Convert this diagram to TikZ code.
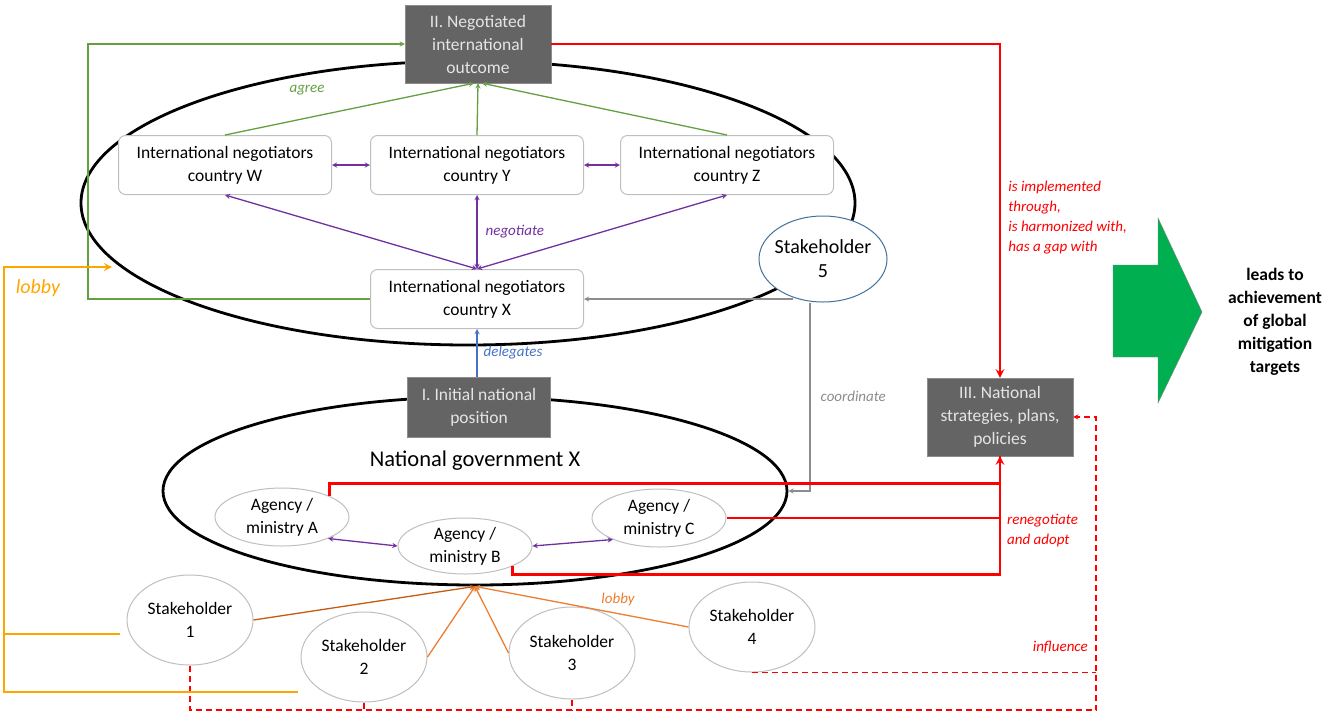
\documentclass[tikz,border=0pt]{standalone}
\usepackage{fontspec}
\setmainfont{Carlito}
\usetikzlibrary{positioning}
\usetikzlibrary{shapes.geometric}
\definecolor{boxgray}{HTML}{646464}
\definecolor{agreegreen}{HTML}{62A040}
\definecolor{negpurple}{HTML}{7030A0}
\definecolor{delblue}{HTML}{4472C4}
\definecolor{coordgray}{HTML}{8C8C8C}
\definecolor{lobbyorange}{HTML}{ED7D31}
\definecolor{lobbydark}{HTML}{C55A11}
\definecolor{lobbybright}{HTML}{FFA500}
\definecolor{s5blue}{HTML}{41719C}
\definecolor{arrowgreen}{HTML}{00B050}
\tikzset{
semithick, % default lines
>=stealth, % All arrows with stealth tips
my text/.style={font=\fontsize{17.5}{23}\selectfont},
my label/.style={font=\itshape\fontsize{15}{20}\selectfont,inner sep=2pt},
dark box/.style={draw=black!45,fill=boxgray,text=white!90!black,align=center,
  minimum width=146pt,inner sep=3pt,my text},
neg box/.style={draw=black!25,fill=white,rounded corners=2.5mm,line width=1pt,
  minimum width=213pt,minimum height=59pt,align=center,my text},
agency/.style={draw=black!25,fill=white,ellipse,line width=1pt,inner sep=0pt,
  minimum width=134pt,minimum height=58pt,align=center,my text},
holder/.style={draw=black!25,fill=white,ellipse,line width=1pt,inner sep=0pt,
  minimum width=126pt,minimum height=90pt,align=center,my text},
level ring/.style={draw,ellipse,line width=2.8pt},
conn/.style={line width=1.3pt},
agree/.style={conn,color=agreegreen},
negotiate/.style={conn,color=negpurple},
delegate/.style={conn,color=delblue},
coordination/.style={conn,color=coordgray},
lobby/.style={conn,color=lobbyorange},
big lobby/.style={line width=2.5pt,color=lobbybright},
red line/.style={line width=2.7pt,color=red},
influence/.style={conn,color=red,dash pattern=on 6pt off 4pt}
}
\begin{document}
\begin{tikzpicture}[x=1pt,y=-1pt]
\useasboundingbox (0,0) rectangle (1327,713);
\node[level ring,minimum width=774pt,minimum height=284pt] (intl) at (468,203) {};
\node[level ring,minimum width=624pt,minimum height=188pt] (gov) at (475,491) {};
\node[font=\fontsize{22.5}{27}\selectfont] (govname) at (475,461) {National government X};

% international level
\node[dark box,minimum height=78pt] (II) at (478,44) {II. Negotiated\\international\\outcome};
\node[neg box] (Y) at (477,165) {International negotiators\\country Y};
\node[neg box] (W) [left=38pt of Y] {International negotiators\\country W};
\node[neg box] (Z) [right=36pt of Y] {International negotiators\\country Z};
\node[neg box] (X) [below=74pt of Y] {International negotiators\\country X};
\node[holder,draw=s5blue,inner xsep=-8pt,font=\fontsize{20}{24}\selectfont,
  minimum width=128pt,minimum height=86pt] (s5) at (823,259) {Stakeholder\\5};

% national level
\node[dark box,minimum width=143pt,minimum height=60pt] (I) at (479,407) {I. Initial national\\position};
\node[dark box,minimum height=78pt] (III) at (1000,417) {III. National\\strategies, plans,\\policies};
\node[agency] (a) at (282,517) {Agency /\\ministry A};
\node[agency,minimum height=56pt] (b) at (465,546) {Agency /\\ministry B};
\node[agency] (c) at (659,518) {Agency /\\ministry C};
\node[holder] (s1) at (190,620) {Stakeholder\\1};
\node[holder] (s2) at (364,657) {Stakeholder\\2};
\node[holder,minimum height=92pt] (s3) at (572,653) {Stakeholder\\3};
\node[holder] (s4) at (752,627) {Stakeholder\\4};

% agree
\path[->,agree] (W.north) edge ([xshift=-4pt]II.south)
                (Y.north) edge (II.south)
                (Z.north) edge ([xshift=4pt]II.south);
\node[my label,text=agreegreen] (agreelabel) at (307,90) {agree};
\coordinate (gleft) at (88,0);
\draw[->,agree] (X.west) -- (X.west -| gleft) |- (II.west);

% negotiate
\path[<->,negotiate] (W) edge (Y)
                     (Y) edge (Z)
                     (X.north) edge (W.south)
                               edge node[right=6pt,my label] {negotiate} (Y.south)
                               edge (Z.south);
\path[<->,negotiate] (a.-25) edge (b.west)
                     (b.east) edge (c.205);

% delegate and coordinate
\draw[->,delegate] (X.south |- I.north) -- (X.south) node[midway,right=4pt,my label] {delegates};
\draw[->,coordination] ([xshift=-30pt]X.east -| s5) -- (X.east);
\draw[->,coordination] ([xshift=-13pt]s5.south) |- (gov.east)
  node[pos=0.25,right=8pt,my label] {coordinate};

% implementation
\draw[->,red line] (II.east) -| (III.north)
  node[pos=0.76,right=5pt,my label,align=left] {is implemented\\through,\\is harmonized with,\\has a gap with};
\draw[->,red line] (a.north east) -- ++(0,-13) -| (III.south);
\draw[red line] (c.east) -- (c.east -| III.south);
\draw[red line] (b.south east) -- ++(0,8) -| (III.south);
\node[my label,text=red,anchor=west,align=left] (renego) at (1005,531) {renegotiate\\and adopt};

% influence
\coordinate (infl) at (1096,710);
\draw[->,influence] (s1.south) |- (infl) |- (III.east);
\draw[influence] (s2.south) -- (s2.south |- infl);
\draw[influence] (s3.south) -- (s3.south |- infl);
\draw[influence] (s4.south) -- (s4.south -| infl);
\node[my label,text=red,anchor=east] (inflabel) at (1090,647) {influence};

% lobby
\path[->,lobby] (s1.east) edge[draw=lobbydark] (gov.south)
                (s2.east) edge (gov.south)
                (s3.west) edge (gov.south)
                (s4.west) edge node[pos=0.33,above=5pt,my label] {lobby} (gov.south);
\coordinate (lobx) at (4,0);
\coordinate (lob1) at (120,634);
\coordinate (lob2) at (298,692);
\coordinate (lobtip) at (112,267);
\draw[->,big lobby] (lob2) -- (lob2 -| lobx) |- (lobtip);
\draw[big lobby] (lob1) -- (lob1 -| lobx);
\node[font=\itshape\fontsize{20}{24}\selectfont,text=lobbybright] (biglobby) at (38,288) {lobby};

% outcome
\draw[draw=black!50,fill=arrowgreen] (1113,265) -- (1158,265) -- (1158,218) -- (1202,312)
  -- (1158,403) -- (1158,357) -- (1113,357) -- cycle;
\node[font=\bfseries\fontsize{17.5}{23}\selectfont,align=center] (goal) at (1275,322)
  {leads to\\achievement\\of global\\mitigation\\targets};
\end{tikzpicture}
\end{document}
